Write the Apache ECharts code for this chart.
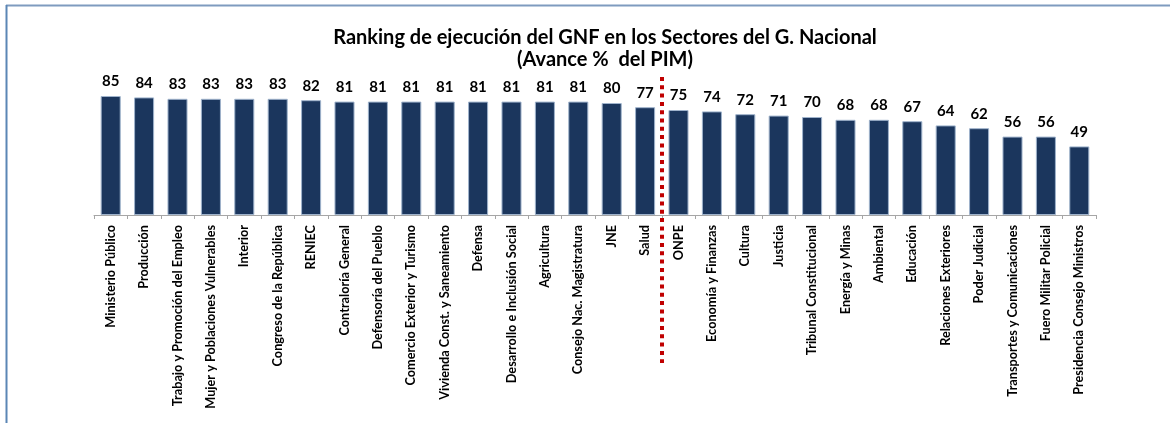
<!DOCTYPE html>
<html>
<head>
<meta charset="utf-8">
<script src="https://cdn.jsdelivr.net/npm/echarts@6/dist/echarts.min.js"></script>
<style>
    html,body{margin:0;padding:0;background:#fff;}
    #main{width:1170px;height:423px;}
</style>
</head>
<body>
<div id="main"></div>
<script>
// sectores, ordenados por avance
let sectores=["Ministerio Público","Producción","Trabajo y Promoción del Empleo","Mujer y Poblaciones Vulnerables","Interior","Congreso de la República","RENIEC","Contraloría General","Defensoría del Pueblo","Comercio Exterior y Turismo","Vivienda Const. y Saneamiento","Defensa","Desarrollo e Inclusión Social","Agricultura","Consejo Nac. Magistratura","JNE","Salud","ONPE","Economía y Finanzas","Cultura","Justicia","Tribunal Constitucional","Energía y Minas","Ambiental","Educación","Relaciones Exteriores","Poder Judicial","Transportes y Comunicaciones","Fuero Militar Policial","Presidencia Consejo Ministros"];
let avance=[85,84,83,83,83,83,82,81,81,81,81,81,81,81,81,80,77,75,74,72,71,70,68,68,67,64,62,56,56,49];
// linea roja entre estos dos sectores
let corteAntes="Salud";
let corteDespues="ONPE";

let myChart=echarts.init(document.getElementById("main"));
let option={
    animation:false,
    title:{
        text:"Ranking de ejecución del GNF en los Sectores del G. Nacional\n(Avance %  del PIM)",
        left:600,
        top:22,
        textAlign:"center",
        textStyle:{
            fontFamily:"Lato",
            fontWeight:"bold",
            fontSize:20,
            lineHeight:22,
            color:"#000"
        }
    },
    grid:{
        left:94,
        right:74,
        top:75,
        bottom:208
    },
    xAxis:{
        type:"category",
        data:sectores,
        axisLine:{lineStyle:{color:"#a6a6a6",width:1}},
        axisTick:{show:true,length:4,lineStyle:{color:"#a6a6a6"}},
        axisLabel:{
            interval:0,
            rotate:90,
            margin:10,
            color:"#000",
            fontFamily:"Lato",
            fontWeight:"bold",
            fontSize:12.7
        }
    },
    yAxis:{
        type:"value",
        min:0,
        max:100,
        show:false,
        splitLine:{show:false}
    },
    series:[{
        type:"bar",
        data:avance,
        barCategoryGap:"40%",
        itemStyle:{
            color:"#1b365d",
            borderColor:"#9fb3cc",
            borderWidth:1
        },
        label:{
            show:true,
            position:"top",
            distance:7,
            color:"#000",
            fontFamily:"Lato",
            fontWeight:"bold",
            fontSize:15
        }
    }]
};
myChart.setOption(option);

// marco y linea punteada
let x1=myChart.convertToPixel({xAxisIndex:0},corteAntes);
let x2=myChart.convertToPixel({xAxisIndex:0},corteDespues);
let xc=Math.round((x1+x2)/2);
myChart.setOption({
    graphic:[
        {type:"line",shape:{x1:6,y1:5.5,x2:1170,y2:5.5},style:{stroke:"#7f9bbf",lineWidth:2}},
        {type:"line",shape:{x1:6.5,y1:5,x2:6.5,y2:423},style:{stroke:"#5b86b5",lineWidth:2}},
        {type:"line",z:10,shape:{x1:xc,y1:77,x2:xc,y2:363},style:{stroke:"#c00000",lineWidth:4,lineDash:[4,4.3]}}
    ]
});
</script>
</body>
</html>
